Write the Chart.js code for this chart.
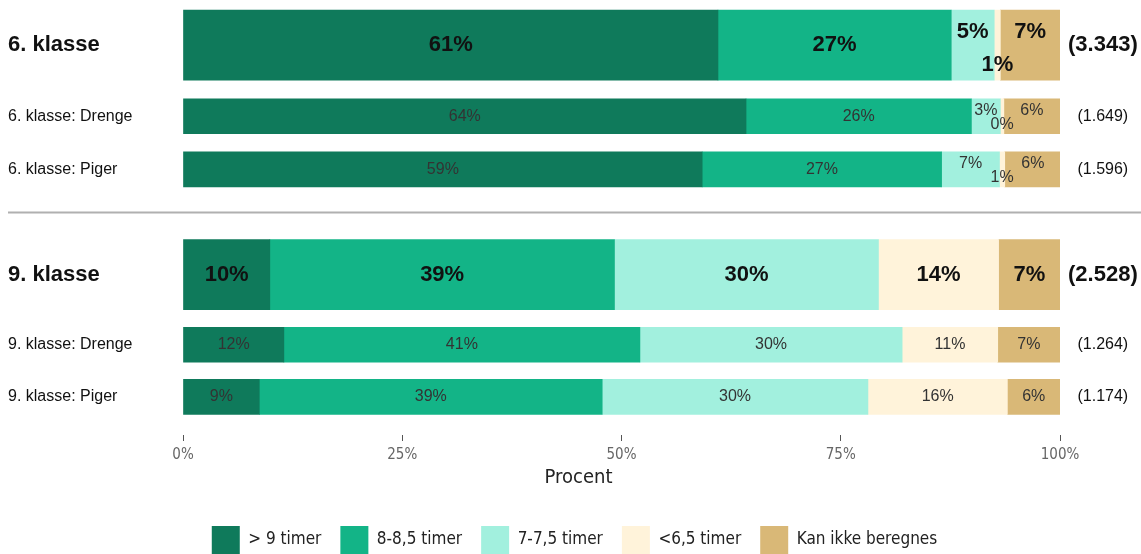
<!DOCTYPE html>
<html>
<head>
<meta charset="utf-8">
<script src="https://cdn.jsdelivr.net/npm/chart.js@4.4.0/dist/chart.umd.min.js"></script>
<style>
  html, body { margin: 0; padding: 0; background: #fff; overflow: hidden; }
</style>
</head>
<body>
<canvas id="sleepChart" width="1141" height="564"></canvas>
<script>
// rows, top to bottom
const rowLabels = ['6. klasse', '6. klasse: Drenge', '6. klasse: Piger', '9. klasse', '9. klasse: Drenge', '9. klasse: Piger'];
const respondents = ['3.343', '1.649', '1.596', '2.528', '1.264', '1.174'];
const categories = ['> 9 timer', '8-8,5 timer', '7-7,5 timer', '<6,5 timer', 'Kan ikke beregnes'];

// percent per row
const over9 = [61.0, 64.2, 59.2, 9.9, 11.5, 8.7];
const h8to85 = [26.6, 25.7, 27.3, 39.3, 40.6, 39.1];
const h7to75 = [4.9, 3.3, 6.6, 30.1, 29.9, 30.3];
const under65 = [0.7, 0.4, 0.6, 13.7, 10.9, 15.9];
const unknown = [6.8, 6.4, 6.4, 7.0, 7.1, 6.0];

const xTicks = [0, 25, 50, 75, 100];
const xTitle = 'Procent';

// layout
const series = [over9, h8to85, h7to75, under65, unknown];
const colors = ['#0f7a5b', '#13b487', '#a2f0de', '#fff3da', '#d9b877'];
const isMain = [true, false, false, true, false, false];
const rowPos = [0.9, 2.32, 3.38, 5.48, 6.88, 7.92];
const separatorPos = 4.24;
const yMax = 8.68;
const narrow = '"Liberation Sans Narrow", "DejaVu Sans Condensed", sans-serif';
const arial = '"Liberation Sans", Arial, sans-serif';

const datasets = [];
categories.forEach((cat, c) => {
  [true, false].forEach(main => {
    datasets.push({
      label: cat,
      main: main,
      data: rowLabels
        .map((_, r) => ({ x: series[c][r], y: rowPos[r], row: r }))
        .filter(p => isMain[p.row] === main),
      backgroundColor: colors[c],
      borderWidth: 0,
      barThickness: main ? 70 : 35
    });
  });
});

const separatorLine = {
  id: 'separatorLine',
  beforeDatasetsDraw(chart) {
    const ctx = chart.ctx;
    const y = chart.scales.y.getPixelForValue(separatorPos);
    ctx.save();
    ctx.strokeStyle = '#b0b0b0';
    ctx.lineWidth = 2;
    ctx.beginPath();
    ctx.moveTo(8, y);
    ctx.lineTo(chart.width, y);
    ctx.stroke();
    ctx.restore();
  }
};

// axis title is centred on the whole figure, not on the panel
const figureTitle = {
  id: 'figureTitle',
  afterDraw(chart) {
    const ctx = chart.ctx;
    ctx.save();
    ctx.font = '20px ' + narrow;
    ctx.fillStyle = '#222';
    ctx.textAlign = 'center';
    ctx.textBaseline = 'middle';
    ctx.fillText(xTitle, chart.width / 2 + 8, chart.scales.x.top + 43);
    ctx.restore();
  }
};

const barLabels = {
  id: 'barLabels',
  afterDatasetsDraw(chart) {
    const ctx = chart.ctx;
    ctx.save();
    ctx.textAlign = 'center';
    ctx.textBaseline = 'middle';
    chart.data.datasets.forEach((ds, d) => {
      const c = Math.floor(d / 2);
      chart.getDatasetMeta(d).data.forEach((bar, j) => {
        const p = ds.data[j];
        const r = p.row;
        const main = isMain[r];
        const h = main ? 70 : 35;
        const tinyIdx = series.findIndex(s => s[r] < 2);
        let dy = 0;
        if (tinyIdx >= 0) {
          if (c === tinyIdx) dy = main ? 0.29 * h : 0.23 * h;
          else if (Math.abs(c - tinyIdx) === 1) dy = main ? -0.19 * h : -0.17 * h;
        }
        ctx.font = main ? 'bold 22px ' + arial : '16px ' + arial;
        ctx.fillStyle = main ? '#111' : '#333';
        ctx.fillText(Math.round(p.x) + '%', (bar.x + bar.base) / 2, bar.y + dy);
      });
    });
    ctx.restore();
  }
};

function rowAxis(position, labelFn, align, pad, width) {
  return {
    type: 'linear',
    position: position,
    min: 0,
    max: yMax,
    reverse: true,
    stacked: true,
    offset: false,
    grid: { display: false, drawTicks: false },
    border: { display: false },
    afterBuildTicks: s => { s.ticks = rowPos.map(v => ({ value: v })); },
    afterFit: s => { s.width = width; s.paddingTop = 0; s.paddingBottom = 0; },
    ticks: {
      autoSkip: false,
      crossAlign: align,
      padding: pad,
      color: '#111',
      font: ctx => isMain[ctx.index]
        ? { family: arial, size: 22, weight: 'bold' }
        : { family: arial, size: 16, weight: 'normal' },
      callback: (v, i) => labelFn(i)
    }
  };
}

const ctx = document.getElementById('sleepChart').getContext('2d');
new Chart(ctx, {
  type: 'bar',
  data: { datasets },
  plugins: [separatorLine, barLabels, figureTitle],
  options: {
    indexAxis: 'y',
    responsive: false,
    animation: false,
    layout: { padding: { left: 8, right: 0, top: 0, bottom: 0 } },
    plugins: {
      tooltip: { enabled: false },
      legend: {
        position: 'bottom',
        labels: {
          boxWidth: 28,
          boxHeight: 28,
          padding: 19,
          color: '#222',
          font: { family: narrow, size: 17 },
          filter: (item, data) => data.datasets[item.datasetIndex].main
        }
      }
    },
    scales: {
      x: {
        type: 'linear',
        min: 0,
        max: 100,
        stacked: true,
        grid: { drawOnChartArea: false, drawTicks: true, tickLength: 6, tickColor: '#555' },
        border: { display: false },
        afterBuildTicks: s => { s.ticks = xTicks.map(v => ({ value: v })); },
        afterFit: s => { s.height = 72; },
        ticks: {
          padding: 5,
          color: '#666',
          font: { family: narrow, size: 15 },
          callback: v => v + '%'
        },
        title: { display: false }
      },
      y: rowAxis('left', i => rowLabels[i], 'far', 8, 175),
      y2: rowAxis('right', i => '(' + respondents[i] + ')', 'center', 8, 81)
    }
  }
});
</script>
</body>
</html>
